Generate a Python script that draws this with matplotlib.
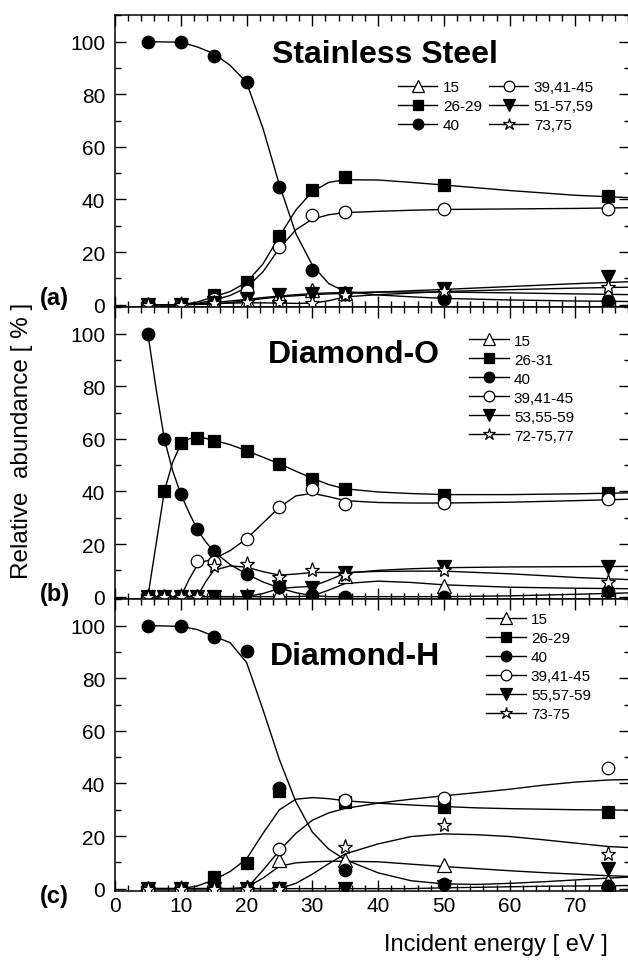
import numpy as np
import matplotlib.pyplot as plt
from matplotlib.lines import Line2D
from matplotlib.ticker import MultipleLocator

plt.rcParams['font.family'] = ['Liberation Sans', 'DejaVu Sans']

# ---- panel (a) Stainless Steel ----
xa = [5, 10, 15, 20, 25, 30, 35, 50, 75]
a_15 = [0, 0, 1, 1.8, 3.5, 5.4, 4.5, 5.4, 4.2]
a_26 = [0, 0, 3.5, 8.5, 26.2, 43.6, 48.7, 45.6, 41.2]
a_40 = [100, 100, 94.7, 84.5, 44.9, 13.2, 4.5, 2.2, 1.5]
a_39 = [0, 0, 2, 5.2, 22, 34.2, 35.1, 36.5, 36.3]
a_51 = [0, 0, 0.5, 2, 3.5, 4.2, 4, 5.8, 10.5]
a_73 = [0, 0, 0.5, 1, 1, 0.8, 3.5, 5.2, 6.7]

# smooth curves
ga = [5, 10, 12.5, 15, 17.5, 20, 22.5, 25, 27.5, 30, 32.5, 35, 40, 45, 50, 60, 70, 79]
ca_15 = [0, 0, 0.3, 0.8, 1.4, 2, 2.7, 3.3, 3.8, 4.2, 4.5, 4.6, 4.8, 4.8, 4.8, 4.5, 4.1, 3.8]
ca_26 = [0, 0, 1, 3, 5, 8.5, 15.5, 26, 36, 43, 46.5, 47.5, 47.4, 46.5, 45.5, 43.4, 41.6, 40.6]
ca_40 = [100, 99.8, 98, 95.5, 91, 84.5, 67, 45.5, 27, 15, 8, 5, 3.7, 3, 2.4, 1.8, 1.4, 1.2]
ca_39 = [0, 0, 0.5, 1.7, 3.5, 6.5, 12.5, 21.5, 28.5, 32.5, 34.2, 35, 35.5, 35.9, 36.2, 36.4, 36.6, 36.9]
ca_51 = [0, 0, 0.1, 0.3, 0.8, 1.5, 2.3, 3, 3.4, 3.8, 4.1, 4.3, 4.8, 5.3, 5.8, 6.9, 8, 8.8]
ca_73 = [0, 0, 0.2, 0.4, 0.6, 0.7, 0.7, 0.6, 0.5, 0.6, 1.5, 3, 3.8, 4.4, 5, 5.7, 6.3, 6.7]

# ---- panel (b) Diamond-O ----
xb = [5, 7.5, 10, 12.5, 15, 20, 25, 30, 35, 50, 75]
b_15 = [0, 0, 0, 0, 0, 0, 1.5, 0.3, 8, 4, 3]
b_26 = [0, 40, 58.6, 60.4, 59.2, 55.3, 50.5, 44.8, 40.9, 38.7, 39.5]
b_40 = [100, 59.9, 39, 25.9, 17.4, 8.6, 3.5, 0.6, 0, 0, 2]
b_39 = [0, 0, 0, 13.5, 13, 22.1, 34.2, 40.8, 35.3, 35.5, 37]
b_53 = [0, 0, 0, 0, 0, 0, 3.5, 3.2, 9, 11.3, 11.4]
b_72 = [0, 0, 0, 0, 11.8, 12.5, 7.4, 10, 8.4, 10.3, 5.4]

gb = [5, 6.25, 7.5, 8.75, 10, 11.25, 12.5, 13.75, 15, 17.5, 20, 22.5, 25, 27.5,
      30, 32.5, 35, 40, 45, 50, 60, 70, 79]
cb_15 = [0, 0, 0, 0, 0, 0, 0, 0, 0, 0, 0, 0, 0, 0, 0.3, 2.5, 5, 5.9, 5.4, 4.5, 3.6, 3.2, 3.0]
cb_26 = [0, 20, 40, 51, 58, 60, 60.5, 60.2, 59.4, 57.8, 55.5, 53, 50.5, 47.7, 45, 42.6,
         41, 39.8, 39.2, 38.8, 38.8, 39.1, 39.5]
cb_40 = [100, 79, 60, 48, 39, 32, 25.6, 21, 17.2, 12.2, 8.6, 5.6, 3.3, 1.5, 0.4, 0, 0,
         0, 0, 0, 0.3, 0.9, 1.5]
cb_39 = [0, 0, 0, 0, 0, 6.5, 12, 13.5, 14.3, 17.5, 22, 28, 34, 38.3, 39.3, 38, 36.5,
         35.8, 35.6, 35.6, 35.9, 36.5, 37.1]
cb_53 = [0, 0, 0, 0, 0, 0, 0, 0, 0, 0, 0, 1.2, 3.1, 3.6, 3.9, 6.3, 8.9, 10, 10.6, 11,
         11.3, 11.4, 11.5]
cb_72 = [0, 0, 0, 0, 0, 0, 0, 5.5, 10, 11.7, 11.2, 9.5, 8.2, 8.6, 9.2, 9.2, 9.2, 9.6,
         9.7, 9.7, 8.7, 7.3, 6.4]

# ---- panel (c) Diamond-H ----
xc = [5, 10, 15, 20, 25, 35, 50, 75]
c_15 = [0, 0, 0, 0.5, 10.8, 10.8, 9, 3]
c_26 = [0, 0, 4.5, 9.6, 37, 33, 31, 29.3]
c_40 = [100, 100, 95.7, 90.5, 38.2, 7, 1.8, 1]
c_39 = [0, 0, 0, 0, 15, 33.7, 34.6, 45.7]
c_55 = [0, 0, 0, 0, 0, 0, 0.5, 7.5]
c_73 = [0, 0, 0, 0, 0, 15.8, 24, 13]

gc = [5, 10, 12.5, 15, 17.5, 20, 22.5, 25, 27.5, 30, 32.5, 35, 40, 45, 50, 55, 60,
      65, 70, 75, 79]
cc_15 = [0, 0, 0, 0, 0, 0.5, 4, 8.5, 9.8, 10.2, 10.4, 10.4, 10.2, 9.3, 8.4, 7.6, 6.8,
         6.1, 5.5, 4.9, 4.6]
cc_26 = [0, 0, 1, 3.3, 6.5, 11.3, 21, 30, 34, 34.6, 34.2, 33.4, 32.5, 31.8, 31.2, 30.7,
         30.4, 30.2, 30, 29.9, 29.8]
cc_40 = [100, 99.7, 98.5, 96, 93.5, 86, 68, 49, 33, 21.5, 15, 11, 6, 3, 1.8, 1.6, 2,
         2.6, 3.3, 4, 4.5]
cc_39 = [0, 0, 0, 0, 0, 0, 7, 14.5, 21, 26, 28.8, 30.5, 32.5, 34, 35.3, 36.5, 37.8,
         39.3, 40.5, 41.3, 41.5]
cc_55 = [0, 0, 0, 0, 0, 0, 0, 0, 0, 0, 0, 0, 0, 0, 0.3, 0.5, 0.7, 0.9, 1.0, 1.1, 1.2]
cc_73 = [0, 0, 0, 0, 0, 0, 0, 0, 2, 5.5, 9.5, 13.2, 17, 19.8, 20.8, 20.5, 19.8, 18.6,
         17.3, 16, 15.5]

labels_a = ['15', '26-29', '40', '39,41-45', '51-57,59', '73,75']
labels_b = ['15', '26-31', '40', '39,41-45', '53,55-59', '72-75,77']
labels_c = ['15', '26-29', '40', '39,41-45', '55,57-59', '73-75']

# marker style per series position
styles = [
    dict(marker='^', mfc='white', ms=9.5),
    dict(marker='s', mfc='black', ms=8),
    dict(marker='o', mfc='black', ms=9),
    dict(marker='o', mfc='white', ms=9),
    dict(marker='v', mfc='black', ms=9.5),
    dict(marker='*', mfc='white', ms=11),
]

panels = [
    dict(name='Stainless Steel', tag='(a)', x=xa, ys=[a_15, a_26, a_40, a_39, a_51, a_73],
         g=ga, cs=[ca_15, ca_26, ca_40, ca_39, ca_51, ca_73], labels=labels_a,
         rect=[0.1831, 0.6795, 0.8202, 0.3035], title_xy=(23.8, 95.3), tag_y=2.7,
         leg=dict(bbox_to_anchor=(0.549, 0.778), ncol=2)),
    dict(name='Diamond-O', tag='(b)', x=xb, ys=[b_15, b_26, b_40, b_39, b_53, b_72],
         g=gb, cs=[cb_15, cb_26, cb_40, cb_39, cb_53, cb_72], labels=labels_b,
         rect=[0.1831, 0.376, 0.8202, 0.3035], title_xy=(23.2, 92.4), tag_y=1.3,
         leg=dict(bbox_to_anchor=(0.687, 0.91), ncol=1)),
    dict(name='Diamond-H', tag='(c)', x=xc, ys=[c_15, c_26, c_40, c_39, c_55, c_73],
         g=gc, cs=[cc_15, cc_26, cc_40, cc_39, cc_55, cc_73], labels=labels_c,
         rect=[0.1831, 0.0725, 0.8202, 0.3035], title_xy=(23.6, 88.5), tag_y=-2.7,
         leg=dict(bbox_to_anchor=(0.72, 0.956), ncol=1)),
]

fig = plt.figure(figsize=(6.28, 9.62), dpi=100)

for i, p in enumerate(panels):
    ax = fig.add_axes(p['rect'])
    for cy in p['cs']:
        ax.plot(p['g'], cy, color='black', lw=1.0, zorder=2)
    handles = []
    for y, st in zip(p['ys'], styles):
        ax.plot(p['x'], y, ls='none', mec='black', mew=0.9, zorder=3, **st)
        handles.append(Line2D([], [], color='black', lw=1.0, mec='black', mew=0.9, **st))

    ax.set_xlim(0, 78.3)
    ax.set_ylim(-1, 110)
    ax.xaxis.set_major_locator(MultipleLocator(10))
    ax.xaxis.set_minor_locator(MultipleLocator(2))
    ax.yaxis.set_major_locator(MultipleLocator(20))
    ax.yaxis.set_minor_locator(MultipleLocator(10))
    ax.tick_params(which='both', direction='in', top=True, right=True, width=1.0,
                   labelsize=15)
    ax.tick_params(which='major', length=8)
    ax.tick_params(which='minor', length=4.5)
    ax.tick_params(axis='y', pad=7)
    if i < 2:
        ax.tick_params(labelbottom=False)
    for s in ax.spines.values():
        s.set_linewidth(1.1)

    ax.text(p['title_xy'][0], p['title_xy'][1], p['name'], fontsize=23,
            fontweight='bold', ha='left', va='center')
    ax.text(-0.117, p['tag_y'], p['tag'], transform=ax.get_yaxis_transform(),
            fontsize=17, fontweight='bold', ha='center', va='center')

    ax.legend(handles, p['labels'], loc='upper left', frameon=False, fontsize=11,
              handlelength=2.6, handletextpad=0.35, columnspacing=0.45,
              labelspacing=0.33, borderpad=0, borderaxespad=0, markerscale=0.85,
              numpoints=1, **p['leg'])

fig.text(0.035, 0.5416, 'Relative  abundance [ % ]', rotation=90, fontsize=17.5,
         ha='center', va='center')
fig.text(0.968, 0.0177, 'Incident energy [ eV ]', fontsize=17, ha='right',
         va='center')

fig.savefig('out.png', dpi=100)
